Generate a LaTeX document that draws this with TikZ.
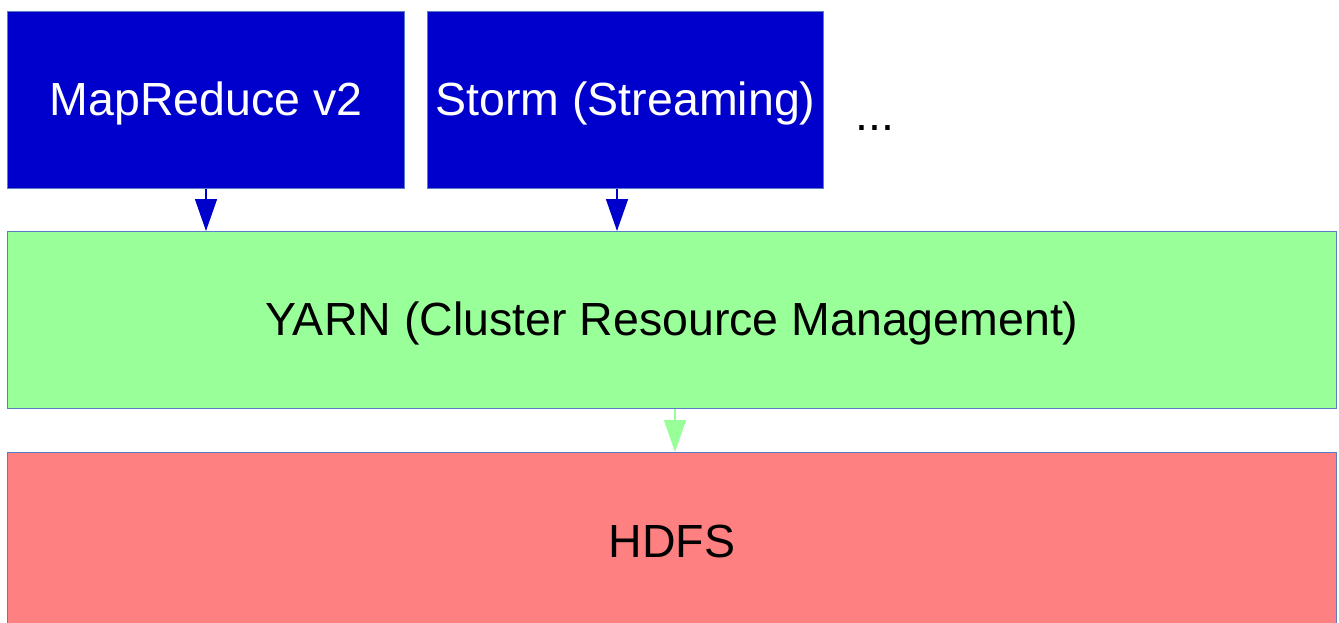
\documentclass[tikz,border=0pt]{standalone}
\usepackage{fontspec}
\setmainfont{Liberation Sans}
\usetikzlibrary{arrows.meta}
\definecolor{mrblue}{RGB}{0,0,204}
\definecolor{yarngreen}{RGB}{153,255,153}
\definecolor{hdfsred}{RGB}{255,128,128}
\definecolor{edgeblue}{RGB}{90,125,200}
\newcommand{\lowered}[1]{\raisebox{-3pt}[\height][\depth]{#1}}
\tikzset{
  bigfont/.style={font=\fontsize{46.5}{56}\selectfont},
  layerbox/.style={draw=edgeblue, line width=1pt, minimum height=177pt, inner sep=0pt, anchor=north west, bigfont},
  appbox/.style={layerbox, fill=mrblue, text=white, minimum width=397pt},
  widebox/.style={layerbox, minimum width=1329pt, text=black},
  flow/.style={line width=1.5pt, -{Triangle[length=32pt,width=22pt]}},
}
\begin{document}
\begin{tikzpicture}[x=1pt,y=-1pt]
\useasboundingbox (0,0) rectangle (1339,623);
\clip (0,0) rectangle (1339,623);
\fill[white] (0,0) rectangle (1339,623);
\node[appbox] (mr) at (7,11) {\lowered{MapReduce v2}};
\node[appbox, minimum width=396pt] (storm) at (427,11) {\lowered{Storm (Streaming)}};
\node[bigfont, anchor=base, inner sep=0pt] (dots) at (875,131) {...};
\node[widebox, fill=yarngreen] (yarn) at (7,231) {\lowered{YARN (Cluster Resource Management)}};
\node[widebox, fill=hdfsred, minimum height=180pt] (hdfs) at (7,452) {};
\node[bigfont, inner sep=0pt] (hdfslabel) at ([yshift=-89pt]hdfs.north) {HDFS};
\draw[flow, mrblue] (mr.south -| 206,0) -- (yarn.north -| 206,0);
\draw[flow, mrblue] (storm.south -| 617,0) -- (yarn.north -| 617,0);
\draw[flow, yarngreen] (yarn.south -| 675,0) -- (hdfs.north -| 675,0);
\end{tikzpicture}
\end{document}
